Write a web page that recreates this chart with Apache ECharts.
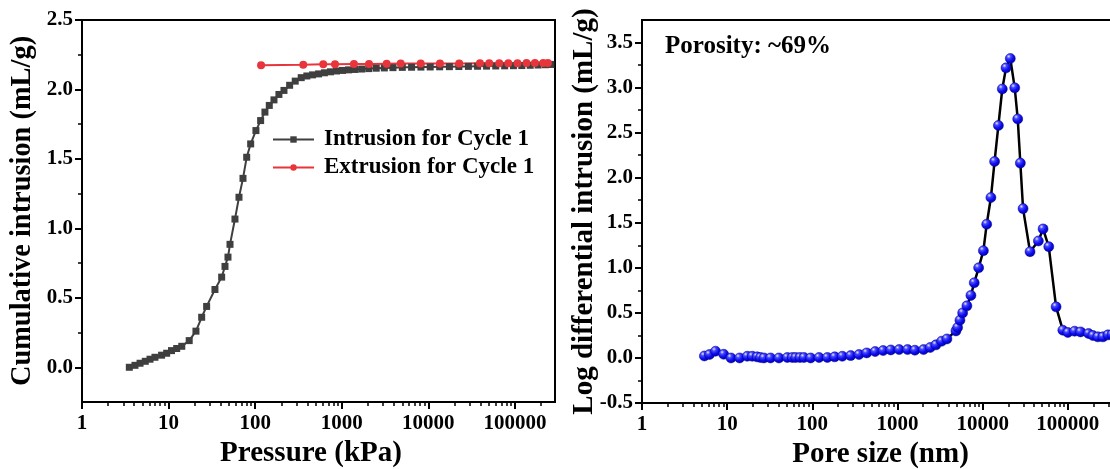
<!DOCTYPE html>
<html>
<head>
<meta charset="utf-8">
<script src="https://cdn.jsdelivr.net/npm/echarts@6/dist/echarts.min.js"></script>
<style>
  html, body { margin: 0; padding: 0; background: #fff; }
  #main { width: 1110px; height: 469px; }
</style>
</head>
<body>
<div id="main"></div>
<script>
// left panel: cumulative intrusion vs pressure (kPa)
const intrusionP = [3.52, 4.09, 4.68, 5.38, 6.1, 6.96, 8.3, 9.5, 10.8, 12.4, 14.2, 17.3, 20.7, 24.1, 27.5, 34.3, 41, 44.8, 48.5, 51.2,
  58.4, 65, 72.3, 79.8, 88.7, 102, 115.6, 129.6, 145.5, 164.8, 188, 215, 250, 290, 340, 395, 460, 540, 630, 740, 870,
  1020, 1200, 1420, 1700, 2050, 2500, 3100, 3900, 5000, 6400, 8200, 10500, 13500, 17500, 22500, 29000, 37000, 47000,
  60000, 76000, 96000, 120000, 150000, 185000, 225000, 260000];
const intrusionV = [0, 0.014, 0.029, 0.043, 0.058, 0.072, 0.087, 0.101, 0.12, 0.135, 0.151, 0.192, 0.26, 0.36, 0.438, 0.56, 0.649, 0.726, 0.793, 0.885,
  1.067, 1.224, 1.36, 1.512, 1.608, 1.704, 1.776, 1.837, 1.885, 1.925, 1.964, 1.993, 2.03, 2.06, 2.085, 2.097, 2.105, 2.112, 2.12, 2.127, 2.133,
  2.137, 2.141, 2.144, 2.147, 2.15, 2.153, 2.155, 2.157, 2.159, 2.16, 2.161, 2.162, 2.163, 2.164, 2.165, 2.166, 2.167, 2.168,
  2.169, 2.17, 2.171, 2.172, 2.174, 2.176, 2.178, 2.18];
const extrusionP = [117, 359, 611, 835, 1382, 2061, 3300, 4790, 8150, 13600, 22700, 39400, 50500, 65900, 83800, 107000, 136000, 170000, 212000, 240000];
const extrusionV = [2.175, 2.178, 2.181, 2.182, 2.183, 2.184, 2.185, 2.186, 2.186, 2.187, 2.187, 2.188, 2.188, 2.188, 2.189, 2.189, 2.19, 2.19, 2.19, 2.19];

// right panel: log differential intrusion vs pore size (nm)
const poreSize = [5.4, 6.2, 7.3, 9.1, 11.1, 14, 17.2, 19.7, 22.5, 24.6, 27, 32.3, 40.5, 50.8, 58.2, 63.6, 71.5, 79.7, 95.5, 120, 150, 183, 225, 282,
  353, 435, 546, 678, 834, 1045, 1312, 1600, 2023, 2421, 2827, 3296, 3805, 4855, 5080, 5410, 5820, 6530, 7280, 7960, 8970,
  10200, 11150, 12500, 13800, 15300, 17000, 18800, 21100, 23800, 25800, 27700, 29800, 36000, 45100, 51200, 59700, 72800,
  87300, 100000, 120000, 141000, 175000, 197000, 225000, 258000, 296000, 330000];
const logDiff = [0.022, 0.038, 0.075, 0.041, 0, 0, 0.019, 0.019, 0.012, 0.005, 0, 0, 0, 0.005, 0.005, 0.005, 0.005, 0.005, 0, 0.005, 0.005, 0.012, 0.019, 0.026,
  0.038, 0.056, 0.071, 0.082, 0.089, 0.093, 0.093, 0.086, 0.093, 0.116, 0.145, 0.186, 0.211, 0.30, 0.338, 0.419, 0.50, 0.578, 0.694, 0.834, 1.0,
  1.19, 1.484, 1.78, 2.18, 2.58, 2.985, 3.219, 3.323, 2.997, 2.652, 2.162, 1.657, 1.179, 1.298, 1.432, 1.235, 0.567,
  0.308, 0.283, 0.297, 0.289, 0.271, 0.249, 0.234, 0.234, 0.256, 0.26];

// tick labels
const decadeTicks = [1, 10, 100, 1000, 10000, 100000];
const leftYTicks = [0, 0.5, 1.0, 1.5, 2.0, 2.5];
const leftYMinor = [0.25, 0.75, 1.25, 1.75, 2.25];
const rightYTicks = [-0.5, 0, 0.5, 1.0, 1.5, 2.0, 2.5, 3.0, 3.5];
const rightYMinor = [-0.25, 0.25, 0.75, 1.25, 1.75, 2.25, 2.75, 3.25];
const minorX = [];
for (let k = 0; k < 6; k++) {
  for (let m = 2; m <= 9; m++) minorX.push(m * Math.pow(10, k));
}

const font = '"Liberation Serif", "Times New Roman", serif';
const black = '#000';

function xAxes(gridIndex, max, name, shift) {
  return [{
    type: 'log', logBase: 10, gridIndex: gridIndex, min: 1, max: max, position: 'bottom',
    axisLine: { show: true, onZero: false, lineStyle: { color: black, width: 2 } },
    axisTick: { show: true, length: 7, lineStyle: { color: black, width: 2 }, customValues: decadeTicks },
    axisLabel: {
      customValues: decadeTicks, color: black, fontFamily: font, fontWeight: 'bold', fontSize: 21, margin: 11,
      formatter: v => String(Math.round(v))
    },
    splitLine: { show: false },
    name: name, nameLocation: 'middle', nameGap: 37, nameMoveOverlap: false,
    nameTextStyle: { color: black, fontFamily: font, fontWeight: 'bold', fontSize: 29, padding: [0, shift, 0, 0] }
  }, {
    type: 'log', logBase: 10, gridIndex: gridIndex, min: 1, max: max, position: 'bottom',
    axisLine: { show: false, onZero: false },
    axisTick: { show: true, length: 4, lineStyle: { color: black, width: 1.5 }, customValues: minorX },
    axisLabel: { show: false },
    splitLine: { show: false }
  }];
}

function yAxes(gridIndex, min, max, major, minor, name, gap, nameSize) {
  return [{
    type: 'value', gridIndex: gridIndex, min: min, max: max, position: 'left',
    axisLine: { show: true, onZero: false, lineStyle: { color: black, width: 2 } },
    axisTick: { show: true, length: 7, lineStyle: { color: black, width: 2 }, customValues: major },
    axisLabel: {
      customValues: major, color: black, fontFamily: font, fontWeight: 'bold', fontSize: 21, margin: 9,
      formatter: v => v.toFixed(1)
    },
    splitLine: { show: false },
    name: name, nameLocation: 'middle', nameGap: gap, nameMoveOverlap: false,
    nameTextStyle: { color: black, fontFamily: font, fontWeight: 'bold', fontSize: nameSize }
  }, {
    type: 'value', gridIndex: gridIndex, min: min, max: max, position: 'left',
    axisLine: { show: false, onZero: false },
    axisTick: { show: true, length: 4, lineStyle: { color: black, width: 1.5 }, customValues: minor },
    axisLabel: { show: false },
    splitLine: { show: false }
  }];
}

const zip = (a, b) => a.map((v, i) => [v, b[i]]);

const chart = echarts.init(document.getElementById('main'), null, { renderer: 'canvas' });
chart.setOption({
  animation: false,
  backgroundColor: '#fff',
  grid: [
    { left: 82, top: 20, width: 473, height: 382, show: true, borderColor: black, borderWidth: 2, outerBoundsMode: 'none' },
    { left: 642, top: 20, width: 511, height: 383, show: true, borderColor: black, borderWidth: 2, outerBoundsMode: 'none' }
  ],
  xAxis: [].concat(
    xAxes(0, 290000, 'Pressure (kPa)', 15),
    xAxes(1, 1000000, 'Pore size (nm)', 34)
  ),
  yAxis: [].concat(
    yAxes(0, -0.25, 2.5, leftYTicks, leftYMinor, 'Cumulative intrusion (mL/g)', 45, 28.4),
    yAxes(1, -0.5, 3.75, rightYTicks, rightYMinor, 'Log differential intrusion (mL/g)', 43, 29)
  ),
  legend: {
    orient: 'vertical', left: 272, top: 128, padding: 0, itemWidth: 41, itemHeight: 8, itemGap: 5,
    textStyle: { color: black, fontFamily: font, fontWeight: 'bold', fontSize: 23, padding: [0, 0, 0, 5] },
    data: ['Intrusion for Cycle 1', 'Extrusion for Cycle 1']
  },
  graphic: [{
    type: 'text', left: 665, top: 34,
    style: { text: 'Porosity: ~69%', fill: black, font: 'bold 25px ' + font }
  }],
  series: [
    {
      name: 'Intrusion for Cycle 1', type: 'line', xAxisIndex: 0, yAxisIndex: 0,
      data: zip(intrusionP, intrusionV),
      symbol: 'rect', symbolSize: 7,
      lineStyle: { color: '#3f3f3f', width: 2 },
      itemStyle: { color: '#3f3f3f' }
    },
    {
      name: 'Extrusion for Cycle 1', type: 'line', xAxisIndex: 0, yAxisIndex: 0,
      data: zip(extrusionP, extrusionV),
      symbol: 'circle', symbolSize: 8,
      lineStyle: { color: '#e8353b', width: 2 },
      itemStyle: { color: '#e8353b' }
    },
    {
      name: 'Log differential intrusion', type: 'line', xAxisIndex: 2, yAxisIndex: 2,
      data: zip(poreSize, logDiff),
      symbol: 'circle', symbolSize: 10,
      lineStyle: { color: black, width: 2.5 },
      itemStyle: {
        color: {
          type: 'radial', x: 0.35, y: 0.3, r: 0.75,
          colorStops: [
            { offset: 0, color: '#e6e6ff' },
            { offset: 0.25, color: '#4a4aff' },
            { offset: 0.6, color: '#0c0cf0' },
            { offset: 1, color: '#0000a8' }
          ]
        },
        borderColor: '#00008a', borderWidth: 0.5
      }
    }
  ]
});
</script>
</body>
</html>
